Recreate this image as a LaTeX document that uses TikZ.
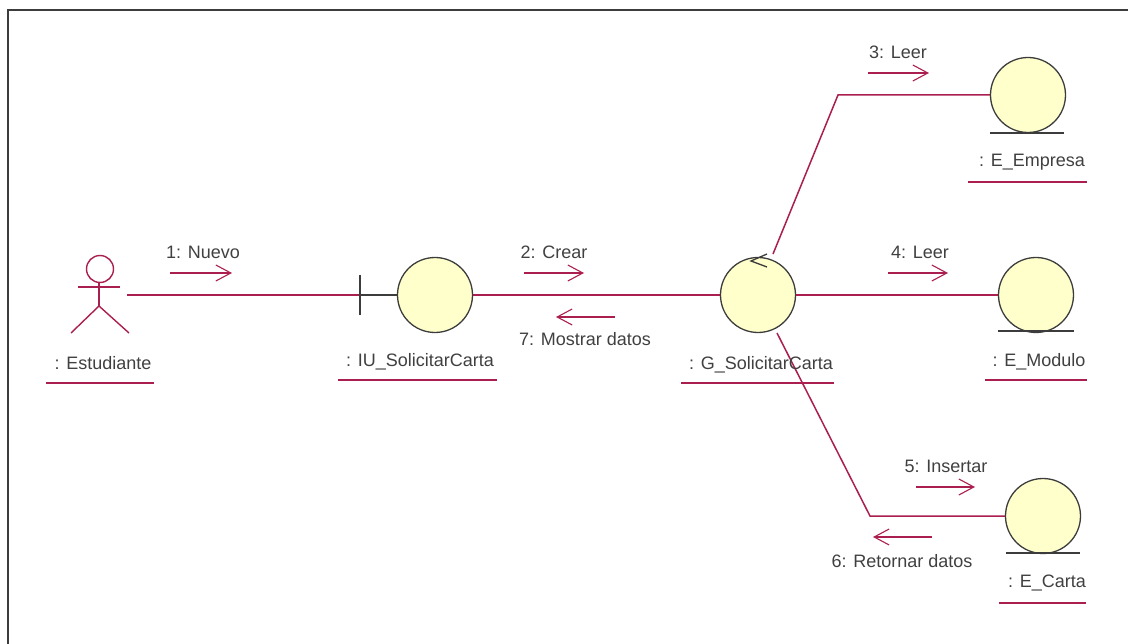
\documentclass[tikz,border=0pt]{standalone}
\usepackage{fontspec}
\setmainfont{Liberation Sans}
\usetikzlibrary{arrows.meta,positioning}
\definecolor{lijn}{RGB}{170,30,80}
\definecolor{vulling}{RGB}{255,255,204}
\definecolor{rand}{RGB}{60,60,60}

\begin{document}
\begin{tikzpicture}[x=1pt, y=-1pt, >={Straight Barb[length=15pt,width=16pt,line width=1.1pt]}]
\tikzstyle{object} = [draw=rand, line width=1.3pt, fill=vulling, circle, inner sep=0pt, minimum size=75pt]
\tikzstyle{naam} = [text=black!75, font=\fontsize{18pt}{20pt}\selectfont, inner sep=0pt]
\tikzstyle{bericht} = [text=black!75, font=\fontsize{18pt}{20pt}\selectfont, inner sep=0pt]
\tikzstyle{link} = [draw=lijn, line width=1.5pt]
\tikzstyle{pijl} = [draw=lijn, line width=1.7pt, ->]
\tikzstyle{streep} = [draw=lijn, line width=1.6pt]
\tikzstyle{basis} = [draw=rand, line width=1.5pt]

\useasboundingbox (0,0) rectangle (1128,644);
\draw [rand, line width=2pt] (8,644) -- (8,10) -- (1128,10);

% verbindingen
\coordinate (grens) at (360,295);
\coordinate (knikboven) at (838,95);
\coordinate (knikonder) at (870,516);
\coordinate (gestorboven) at (773,254);
\coordinate (gestoronder) at (777,333);

% objecten
\node [inner sep=0pt, minimum width=54pt, minimum height=76pt] (estudiante) at (100,295) {};
\node [object] (iu) at (435,295) {};
\node [object] (gestor) at (758,295) {};
\node [object] (empresa) at (1028,95) {};
\node [object] (modulo) at (1036,295) {};
\node [object] (carta) at (1043,516) {};

\draw [link] (estudiante) -- (grens);
\draw [link] (iu) -- (gestor);
\draw [link] (gestor) -- (modulo);
\draw [link] (gestorboven) -- (knikboven) -- (empresa);
\draw [link] (gestoronder) -- (knikonder) -- (carta);

% actor
\draw [lijn, line width=1.4pt] (100,269) circle (13.5pt);
\draw [lijn, line width=1.4pt] (78,287) -- (120,287);
\draw [lijn, line width=1.4pt] (99,282) -- (99,306);
\draw [lijn, line width=1.4pt] (71,333) -- (99,306) -- (129,333);

% randsymbolen
\draw [basis] (360,275) -- (360,315);
\draw [basis] (grens) -- (iu);
\draw [basis] (990,133) -- (1064,133);
\draw [basis] (998,331) -- (1074,331);
\draw [basis] (1006,553) -- (1080,553);
\draw [draw=rand, line width=1.3pt] (767,254) -- (751,261) -- (767,267);

% namen
\node [naam] (estudianteNaam) at (103,363) {: Estudiante};
\node [naam] (iuNaam) at (420,362) {: IU\_SolicitarCarta};
\node [naam] (gestorNaam) at (761,365) {: G\_SolicitarCarta};
\node [naam] (empresaNaam) at (1032,162) {: E\_Empresa};
\node [naam] (moduloNaam) at (1039,362) {: E\_Modulo};
\node [naam] (cartaNaam) at (1047,583) {: E\_Carta};

\draw [streep] (46,383) -- (154,383);
\draw [streep] (338,380) -- (497,380);
\draw [streep] (681,383) -- (834,383);
\draw [streep] (968,182) -- (1087,182);
\draw [streep] (985,380) -- (1087,380);
\draw [streep] (999,603) -- (1086,603);

% berichten
\node [bericht] (nuevo) at (203,252) {1: Nuevo};
\coordinate (nuevoA) at (170,273);
\coordinate (nuevoB) at (232,273);
\draw [pijl] (nuevoA) -- (nuevoB);

\node [bericht] (crear) at (554,252) {2: Crear};
\coordinate (crearA) at (524,273);
\coordinate (crearB) at (584,273);
\draw [pijl] (crearA) -- (crearB);

\node [bericht] (mostrar) at (585,339) {7: Mostrar datos};
\coordinate (mostrarA) at (615,317);
\coordinate (mostrarB) at (556,317);
\draw [pijl] (mostrarA) -- (mostrarB);

\node [bericht] (leerEen) at (898,52) {3: Leer};
\coordinate (leerEenA) at (868,73);
\coordinate (leerEenB) at (929,73);
\draw [pijl] (leerEenA) -- (leerEenB);

\node [bericht] (leerTwee) at (920,252) {4: Leer};
\coordinate (leerTweeA) at (888,273);
\coordinate (leerTweeB) at (948,273);
\draw [pijl] (leerTweeA) -- (leerTweeB);

\node [bericht] (insertar) at (946,466) {5: Insertar};
\coordinate (insertarA) at (916,487);
\coordinate (insertarB) at (975,487);
\draw [pijl] (insertarA) -- (insertarB);

\node [bericht] (retornar) at (902,561) {6: Retornar datos};
\coordinate (retornarA) at (932,537);
\coordinate (retornarB) at (873,537);
\draw [pijl] (retornarA) -- (retornarB);
\end{tikzpicture}
\end{document}
